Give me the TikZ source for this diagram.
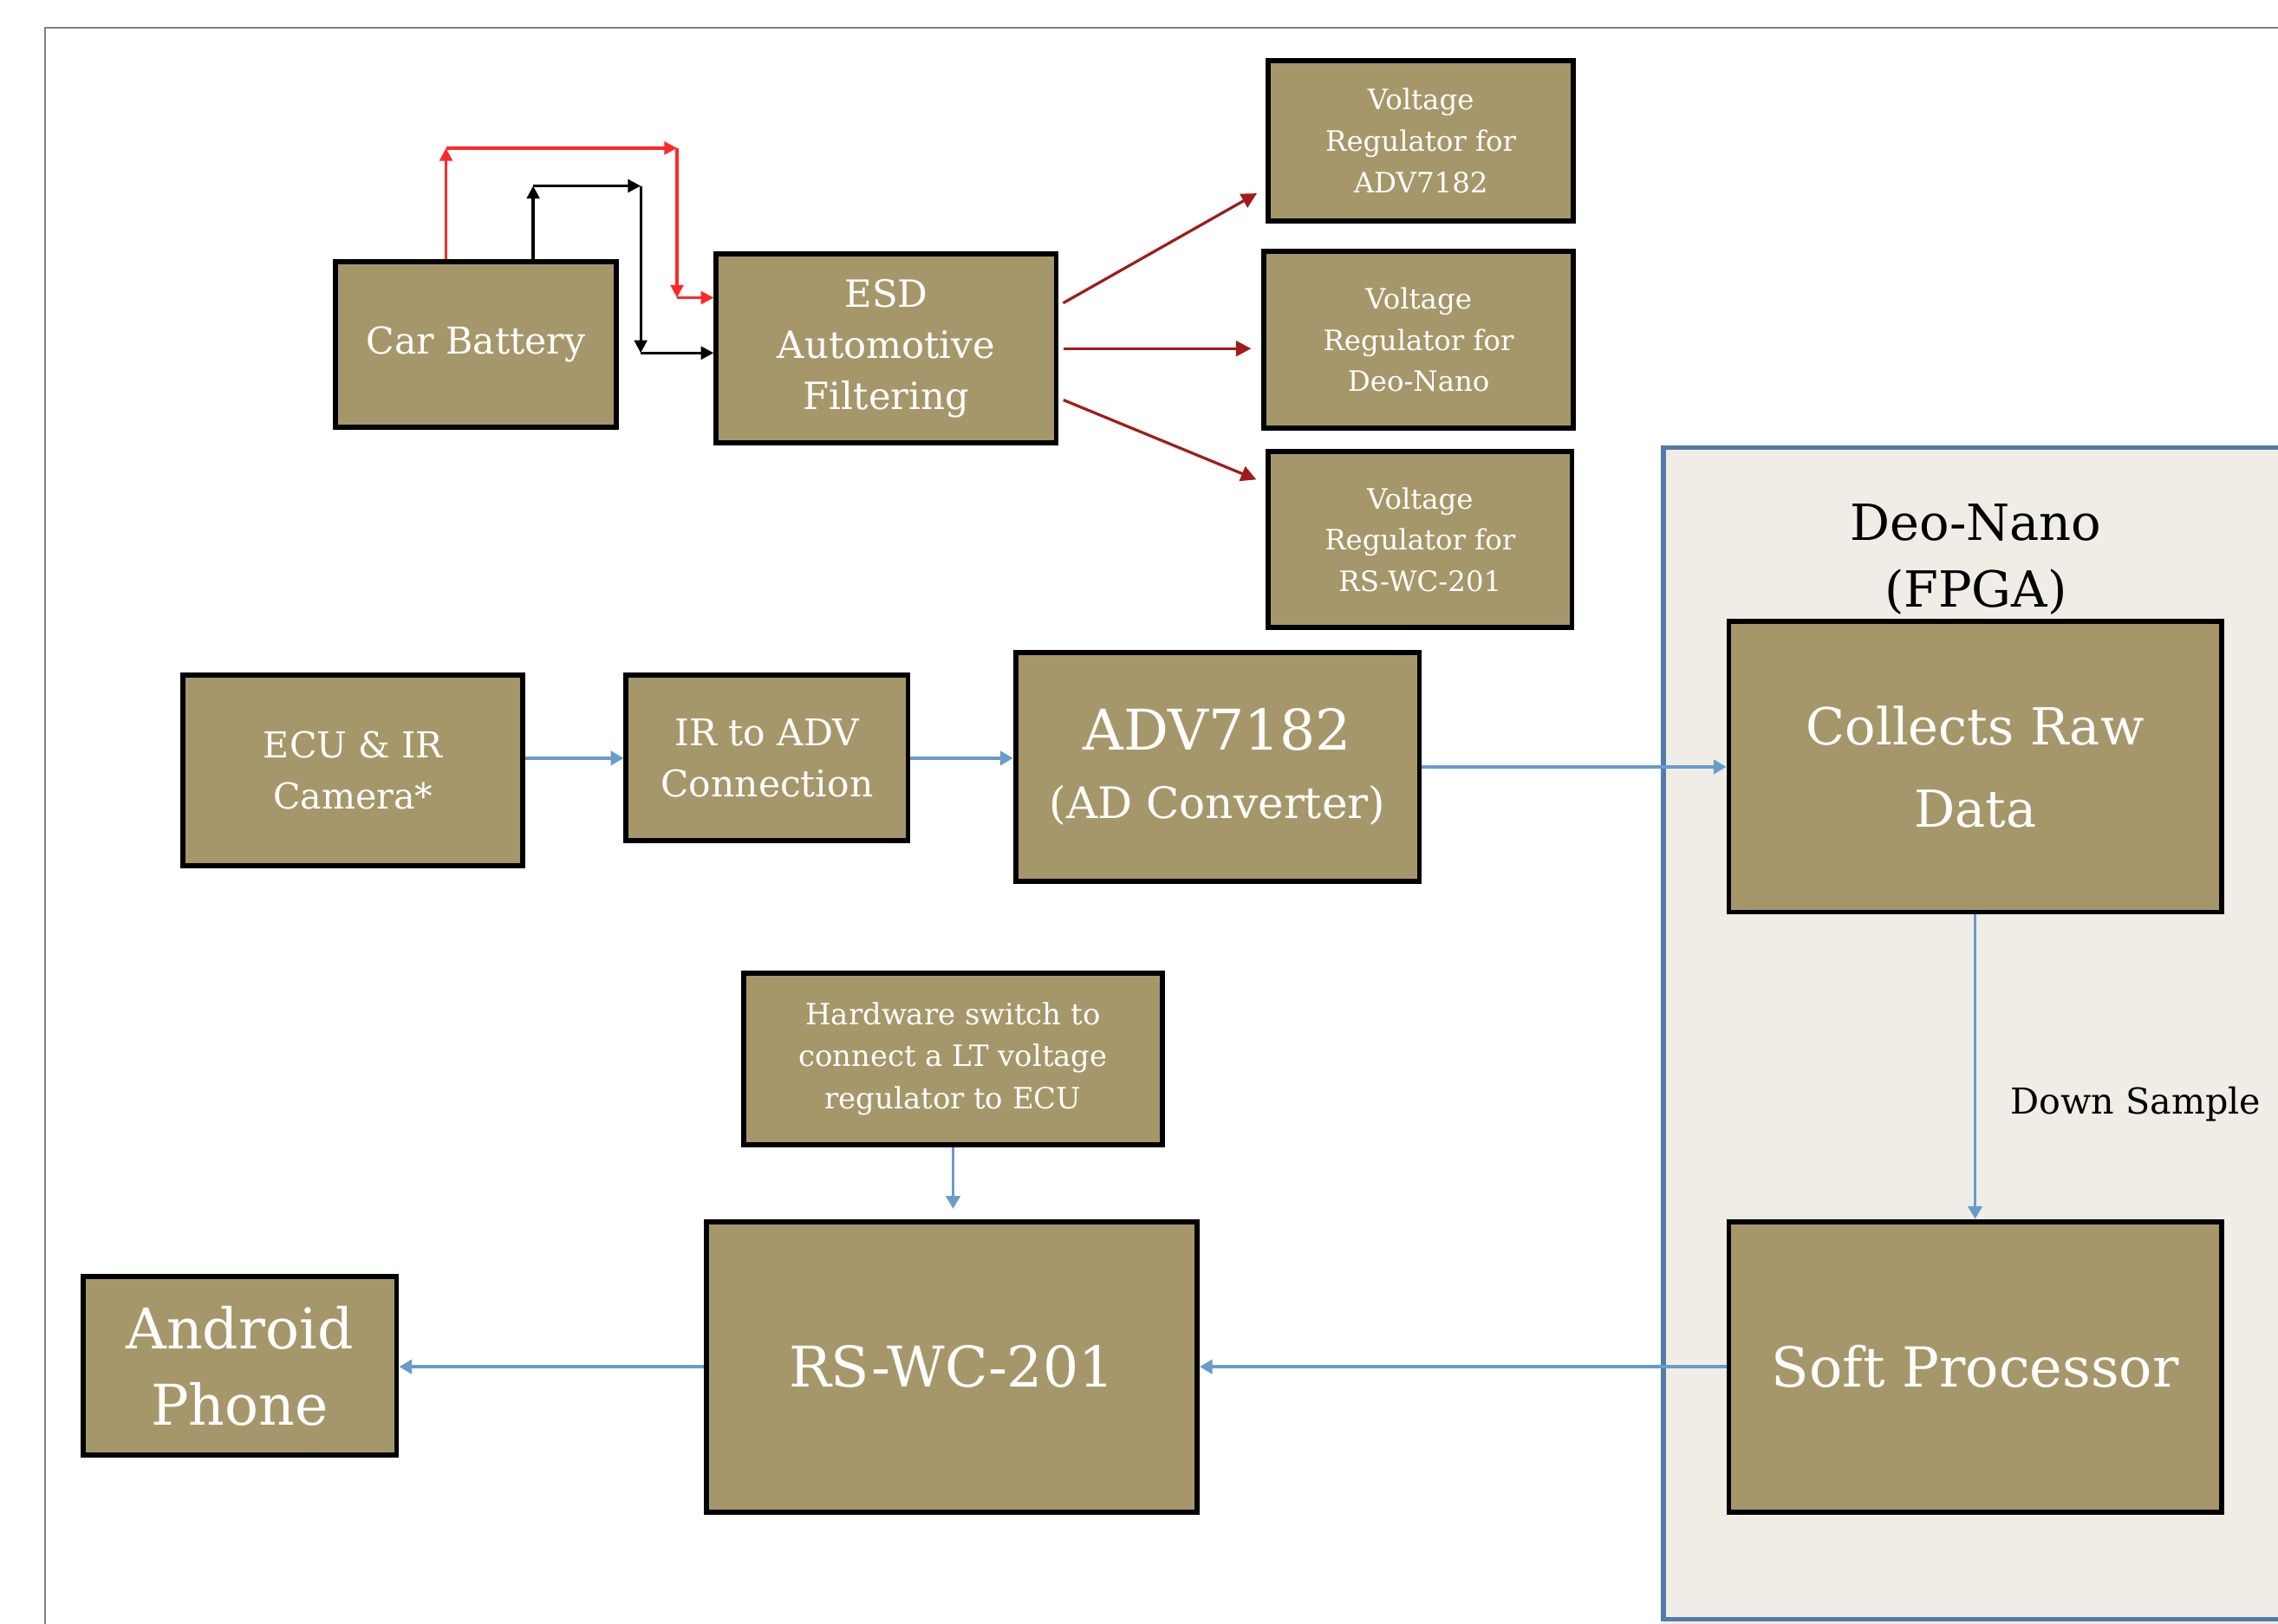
\documentclass[tikz,border=0pt]{standalone}
\usepackage{fontspec}
\setmainfont{DejaVu Serif}
\usepackage{tikz}
\usetikzlibrary{arrows.meta,positioning}
\definecolor{boxTan}{RGB}{166,151,107}
\definecolor{fpgaBg}{RGB}{240,237,230}
\definecolor{fpgaLine}{RGB}{80,124,168}
\definecolor{sigBlue}{RGB}{104,156,204}
\definecolor{feedRed}{RGB}{160,28,28}
\definecolor{wireRed}{RGB}{255,40,40}
\definecolor{frameGray}{RGB}{128,128,128}
\newcommand{\fsz}[2]{\fontsize{#1}{#2}\selectfont}
\tikzset{
  blk/.style={draw=black, line width=2pt, fill=boxTan, text=white,
    align=center, inner sep=0pt},
  sig/.style={-{Triangle[length=5pt,width=5.5pt]}, draw=sigBlue, line width=1.3pt},
  feed/.style={-{Triangle[length=6pt,width=6pt]}, draw=feedRed, line width=1.1pt,
    shorten <=2pt, shorten >=4pt},
  redwire/.style={-{Triangle[length=5pt,width=5pt]}, draw=wireRed, line width=1.1pt},
  blkwire/.style={-{Triangle[length=5pt,width=5pt]}, draw=black, line width=1.1pt}
}

\begin{document}
\begin{tikzpicture}[x=0.02cm,y=-0.02cm]
  \useasboundingbox (0,0) rectangle (1568,1118);
  \draw[frameGray,line width=0.9pt] (31,1118) -- (31,19) -- (1568,19);
  \fill[fpgaBg] (1145,308) rectangle (1568,1118);
  \draw[fpgaLine,line width=1.8pt] (1568,308) -- (1145,308) -- (1145,1115) -- (1568,1115);

  \node[blk,minimum width=3.86cm,minimum height=2.28cm,font=\fsz{14.5}{20}] (bat)
    at (327.5,237) {Car Battery};
  \node[blk,minimum width=4.68cm,minimum height=2.6cm,font=\fsz{14.7}{20}] (esd)
    at (610,240) {ESD\\Automotive\\Filtering};
  \node[blk,minimum width=4.2cm,minimum height=2.2cm,font=\fsz{11}{16.2}] (vra)
    at (978,97) {Voltage\\Regulator for\\ADV7182};
  \node[blk,minimum width=4.26cm,minimum height=2.44cm,font=\fsz{11}{16.2}] (vrd)
    at (976.5,234) {Voltage\\Regulator for\\Deo-Nano};
  \node[blk,minimum width=4.18cm,minimum height=2.42cm,font=\fsz{11}{16.2}] (vrr)
    at (977.5,371.5) {Voltage\\Regulator for\\RS-WC-201};

  \node[blk,minimum width=4.68cm,minimum height=2.62cm,font=\fsz{14}{20}] (ecu)
    at (243,530.5) {ECU \& IR\\Camera*};
  \node[blk,minimum width=3.88cm,minimum height=2.28cm,font=\fsz{14.4}{20}] (irc)
    at (528,522) {IR to ADV\\Connection};
  \node[blk,minimum width=5.56cm,minimum height=3.16cm,font=\fsz{22}{27}] (adv)
    at (838,528) {ADV7182\\\fsz{17}{27}(AD Converter)};

  \node[align=center,font=\fsz{19.5}{26}] (fpga) at (1360,385) {Deo-Nano\\(FPGA)};
  \node[blk,minimum width=6.78cm,minimum height=4cm,font=\fsz{20}{32}] (raw)
    at (1359.5,528) {Collects Raw\\Data};
  \node[blk,minimum width=6.78cm,minimum height=4cm,font=\fsz{21.6}{26}] (soft)
    at (1359.5,941) {Soft Processor};
  \node[font=\fsz{14}{18}] (down) at (1470,760) {Down Sample};

  \node[blk,minimum width=5.76cm,minimum height=2.36cm,font=\fsz{11.5}{16.5}] (hws)
    at (656,729) {Hardware switch to\\connect a LT voltage\\regulator to ECU};
  \node[blk,minimum width=6.76cm,minimum height=4cm,font=\fsz{22}{26}] (rswc)
    at (655,941) {RS-WC-201};
  \node[blk,minimum width=4.32cm,minimum height=2.46cm,font=\fsz{22}{30}] (andr)
    at (165,940.5) {Android\\Phone};

  \coordinate (r1) at (307,102);
  \coordinate (r2) at (466,102);
  \coordinate (r3) at (466,205);
  \coordinate (k1) at (367,128);
  \coordinate (k2) at (441,128);
  \coordinate (k3) at (441,243);
  \draw[redwire] (bat.north -| r1) -- (r1);
  \draw[redwire] (r1) -- (r2);
  \draw[redwire] (r2) -- (r3);
  \draw[redwire] (r3) -- (r3 -| esd.west);
  \draw[blkwire] (bat.north -| k1) -- (k1);
  \draw[blkwire] (k1) -- (k2);
  \draw[blkwire] (k2) -- (k3);
  \draw[blkwire] (k3) -- (k3 -| esd.west);

  \draw[feed] (esd.14) -- (vra.197);
  \draw[feed] (esd.east) -- (esd.east -| vrd.west);
  \draw[feed] (esd.-16) -- (vrr.160);

  \draw[sig] (irc.west -| ecu.east) -- (irc.west);
  \draw[sig] (irc.east) -- (irc.east -| adv.west);
  \draw[sig] (adv.east) -- (raw.west);
  \draw[sig] (raw.south) -- (soft.north);
  \draw[sig] (soft.west) -- (rswc.east);
  \draw[sig] (rswc.west) -- (rswc.west -| andr.east);
  \draw[sig,shorten >=4pt] (hws.south) -- (hws.south |- rswc.north);
\end{tikzpicture}
\end{document}
